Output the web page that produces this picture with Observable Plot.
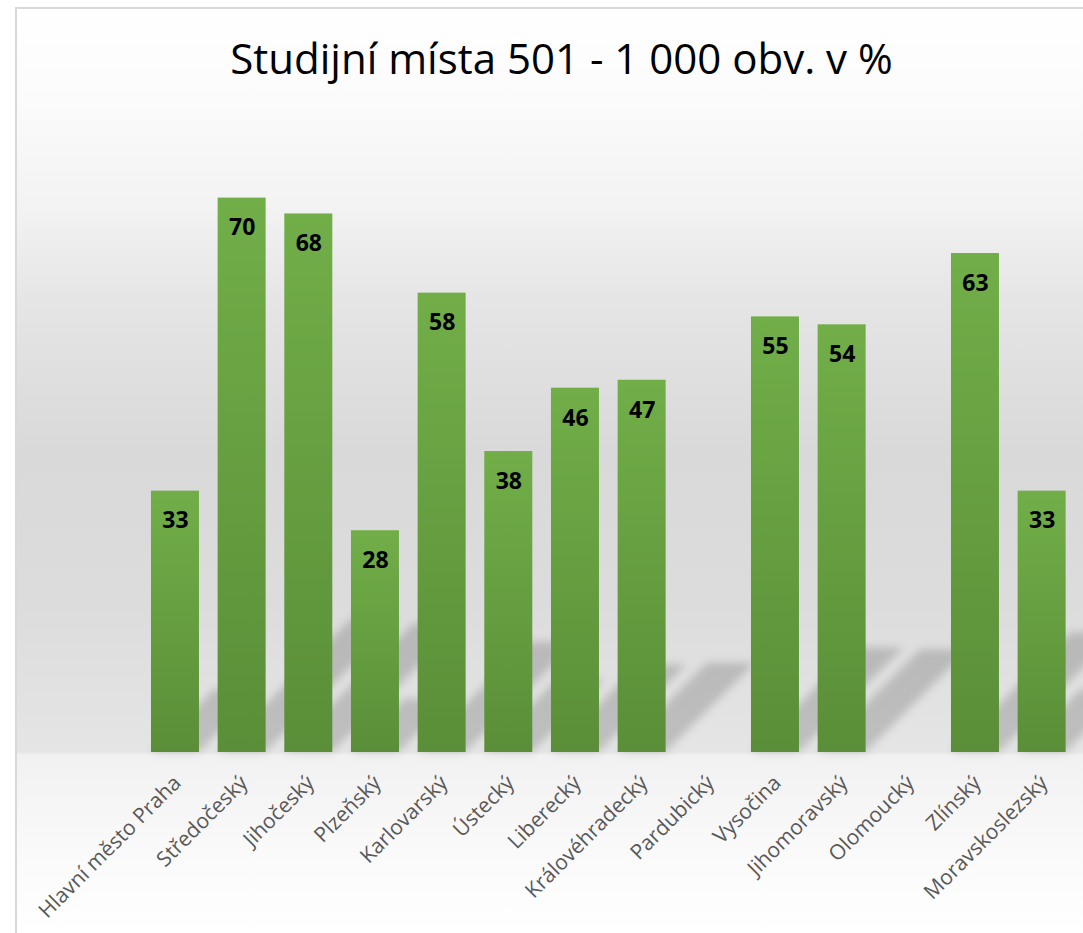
<!DOCTYPE html>
<html>
<head>
<meta charset="utf-8">
<script src="https://cdn.jsdelivr.net/npm/d3@7"></script>
<script src="https://cdn.jsdelivr.net/npm/@observablehq/plot@0.6"></script>
<style>
  html, body { margin: 0; padding: 0; background: #fff; }
  #frame {
    position: absolute; left: 15px; top: 7px; width: 1068px; height: 926px;
    border-left: 2px solid #d9d9d9; border-top: 2px solid #d9d9d9;
    background: linear-gradient(to bottom,
      #ffffff 0px, #fbfbfb 93px, #f3f3f3 193px, #e5e5e5 293px, #d9d9d9 443px,
      #dcdcdc 593px, #e5e5e5 743px, #f1f1f1 746px, #fafafa 843px, #ffffff 926px);
  }
  #title {
    position: absolute; left: 0; top: 37px; width: 1123px; text-align: center;
    font-family: "Open Sans", sans-serif; font-size: 42px; color: #000; line-height: 1;
  }
  #chart { position: absolute; left: 0; top: 0; }
</style>
</head>
<body>
<svg width="0" height="0" style="position:absolute">
  <defs>
    <linearGradient id="barGrad" x1="0" y1="0" x2="0" y2="1">
      <stop offset="0%" stop-color="#71ae48"/>
      <stop offset="100%" stop-color="#5a8e38"/>
    </linearGradient>
    <filter id="shadowBlur" x="-20%" y="-20%" width="140%" height="140%">
      <feGaussianBlur stdDeviation="4.5"/>
    </filter>
  </defs>
</svg>
<div id="frame"></div>
<div id="title">Studijní místa 501 - 1 000 obv. v %</div>
<div id="chart"></div>
<script>
const categories = ["Hlavní město Praha", "Středočeský", "Jihočeský", "Plzeňský", "Karlovarský", "Ústecký", "Liberecký", "Královéhradecký", "Pardubický", "Vysočina", "Jihomoravský", "Olomoucký", "Zlínský", "Moravskoslezský"];
const values = [33, 70, 68, 28, 58, 38, 46, 47, null, 55, 54, null, 63, 33];

const data = categories.map((c, i) => ({category: c, value: values[i]}));
const bars = data.filter(d => d.value != null);

// perspective shadow cast up-right behind each bar, derived from the scales
function shadows(index, scales) {
  const g = d3.create("svg:g").attr("filter", "url(#shadowBlur)");
  const bw = scales.x.bandwidth ? scales.x.bandwidth() : 48;
  const y0 = scales.y(0);
  for (const d of bars) {
    const x0 = scales.x(d.category);
    const h = y0 - scales.y(d.value);
    const s = 0.24 * h;
    const pts = [[x0, y0], [x0 + bw, y0], [x0 + bw + s, y0 - s], [x0 + s, y0 - s]];
    g.append("polygon")
      .attr("points", pts.map(p => p.join(",")).join(" "))
      .attr("fill", "#000")
      .attr("fill-opacity", 0.17);
  }
  return g.node();
}

const chart = Plot.plot({
  width: 1083,
  height: 933,
  marginLeft: 144.3,
  marginRight: 10.7,
  marginTop: 118.4,
  marginBottom: 181,
  style: {background: "transparent", overflow: "visible"},
  x: {domain: categories, paddingInner: 0.28, paddingOuter: 0.1, round: false, axis: null},
  y: {domain: [0, 80], axis: null},
  marks: [
    shadows,
    Plot.barY(bars, {x: "category", y: "value", fill: "url(#barGrad)"}),
    Plot.text(bars, {
      x: "category", y: "value", text: d => String(d.value),
      lineAnchor: "top", dy: 21,
      fontFamily: "Open Sans", fontWeight: "bold", fontSize: 23, fill: "#000"
    }),
    Plot.text(data, {
      x: "category", frameAnchor: "bottom", text: "category",
      rotate: -45, textAnchor: "end", lineAnchor: "middle",
      dx: 2, dy: 27,
      fontFamily: "Open Sans", fontSize: 21, fill: "#595959"
    })
  ]
});
document.getElementById("chart").appendChild(chart);
</script>
</body>
</html>
